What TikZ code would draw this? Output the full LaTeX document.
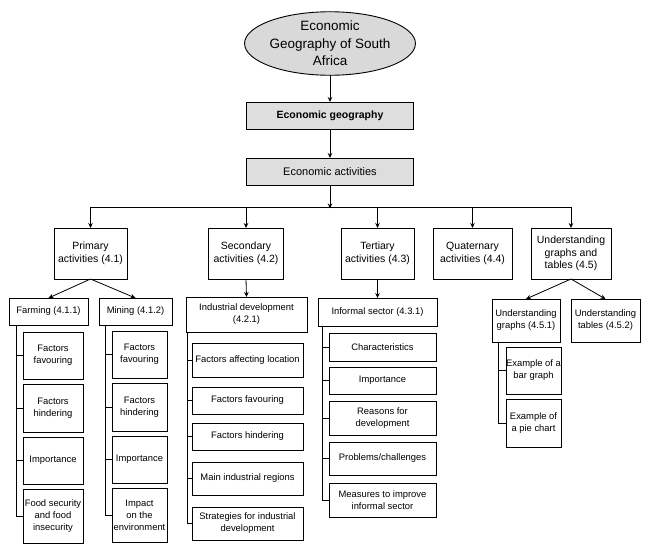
\documentclass[tikz,border=0pt]{standalone}
\usepackage{fontspec}
\setmainfont{Liberation Sans}
\usetikzlibrary{arrows.meta,shapes.geometric}
\begin{document}
\begin{tikzpicture}[x=1pt,y=-1pt,
  every node/.style={inner sep=0pt, outer sep=0pt, align=center},
  base/.style={draw=black, line width=0.9pt},
  topbox/.style={base, fill=black!13, font=\fontsize{10.5}{13}\selectfont},
  lvlone/.style={base, font=\fontsize{10.5}{12.5}\selectfont},
  lvltwo/.style={base, font=\fontsize{9.4}{12}\selectfont},
  leaf/.style={base, font=\fontsize{9.4}{12}\selectfont},
  conn/.style={line width=0.8pt, draw=black},
  arr/.style={conn, -{Stealth[length=5pt,width=4.5pt]}},
  sz/.style 2 args={minimum width=#1pt, minimum height=#2pt}
]
\useasboundingbox (0,0) rectangle (647,547);

% top
\node[ellipse, base, fill=black!15, sz={161}{63}, font=\fontsize{13.5}{17.5}\selectfont] (root) at (330,43.5) {Economic\\Geography of South\\Africa};
\node[topbox, sz={167}{27}, font=\bfseries\fontsize{10.5}{13}\selectfont] (eg) at (330,115.5) {Economic geography};
\node[topbox, sz={167}{27}, font=\fontsize{11}{13}\selectfont] (ea) at (330,171.5) {Economic activities};

% level 1
\node[lvlone, sz={73}{51}] (p1) at (90.5,253.5) {Primary\\activities (4.1)};
\node[lvlone, sz={75}{51}] (p2) at (246,253.5) {Secondary\\activities (4.2)};
\node[lvlone, sz={73}{51}] (p3) at (377.5,253.5) {Tertiary\\activities (4.3)};
\node[lvlone, sz={79}{51}] (p4) at (472.5,253.5) {Quaternary\\activities (4.4)};
\node[lvlone, sz={80}{51}] (p5) at (571,253.5) {Understanding\\graphs and\\tables (4.5)};

% level 2
\node[lvltwo, sz={79}{27}] (farm) at (48.5,311.5) {Farming (4.1.1)};
\node[lvltwo, sz={73}{27}] (mine) at (135.5,311.5) {Mining (4.1.2)};
\node[lvltwo, sz={121}{35}] (ind) at (246.5,314.5) {Industrial development\\(4.2.1)};
\node[lvltwo, sz={119}{28}] (inf) at (377.5,312) {Informal sector (4.3.1)};
\node[lvltwo, sz={68}{43}] (ug) at (526,320.5) {Understanding\\graphs (4.5.1)};
\node[lvltwo, sz={69}{43}] (ut) at (605.5,320.5) {Understanding\\tables (4.5.2)};

% farming children
\node[leaf, sz={60}{47}] (f1) at (53,355.5) {Factors\\favouring};
\node[leaf, sz={60}{48}] (f2) at (53,408) {Factors\\hindering};
\node[leaf, sz={60}{47}] (f3) at (53,460.5) {Importance};
\node[leaf, sz={60}{54}] (f4) at (53,516) {Food security\\and food\\insecurity};

% mining children
\node[leaf, sz={55}{47}] (m1) at (139.5,354.5) {Factors\\favouring};
\node[leaf, sz={55}{48}] (m2) at (139.5,407) {Factors\\hindering};
\node[leaf, sz={55}{47}] (m3) at (139.5,459.5) {Importance};
\node[leaf, sz={55}{54}] (m4) at (139.5,515) {Impact\\on the\\environment};

% industrial children
\node[leaf, sz={111}{34}] (i1) at (247.5,360) {Factors affecting location};
\node[leaf, sz={111}{27}] (i2) at (247.5,400.5) {Factors favouring};
\node[leaf, sz={111}{27}] (i3) at (247.5,436.5) {Factors hindering};
\node[leaf, sz={111}{33}] (i4) at (247.5,478.5) {Main industrial regions};
\node[leaf, sz={111}{33}] (i5) at (247.5,523.5) {Strategies for industrial\\development};

% informal children
\node[leaf, sz={107}{28}] (s1) at (382.5,347) {Characteristics};
\node[leaf, sz={107}{27}] (s2) at (382.5,380.5) {Importance};
\node[leaf, sz={107}{34}] (s3) at (382.5,418) {Reasons for\\development};
\node[leaf, sz={107}{33}] (s4) at (382.5,458.5) {Problems/challenges};
\node[leaf, sz={107}{34}] (s5) at (382.5,500) {Measures to improve\\informal sector};

% graph children
\node[leaf, sz={55}{47}] (g1) at (533.5,370.5) {Example of a\\bar graph};
\node[leaf, sz={55}{48}] (g2) at (533.5,423) {Example of\\a pie chart};

% spine coordinates
\coordinate (bus) at (330,207);
\coordinate (spf) at (16,0);
\coordinate (spm) at (105,0);
\coordinate (spi) at (187,0);
\coordinate (sps) at (322,0);
\coordinate (spg) at (498,0);

% top connectors
\draw[arr] (root.south) -- (eg.north);
\draw[arr] (eg.south) -- (ea.north);
\draw[arr] (ea.south) -- ([yshift=-1.5pt]bus);
\draw[conn] (p1.north |- bus) -- (p5.north |- bus);
\foreach \n in {p1,p2,p3,p4,p5} \draw[arr] (\n.north |- bus) -- (\n.north);

% level 1 to level 2
\draw[arr] (p1.south) -- (farm.north);
\draw[arr] (p1.south) -- (mine.north);
\draw[arr] (p2.south) -- (ind.north);
\draw[arr] (p3.south) -- (inf.north);
\draw[arr] (p5.south) -- (ug.north);
\draw[arr] (p5.south) -- (ut.north);

% spines
\draw[conn] (farm.south -| spf) |- (f4.west);
\foreach \c in {f1,f2,f3} \draw[conn] (spf |- \c.west) -- (\c.west);
\draw[conn] (mine.south -| spm) |- (m4.west);
\foreach \c in {m1,m2,m3} \draw[conn] (spm |- \c.west) -- (\c.west);
\draw[conn] (ind.south -| spi) |- (i5.west);
\foreach \c in {i1,i2,i3,i4} \draw[conn] (spi |- \c.west) -- (\c.west);
\draw[conn] (inf.south -| sps) |- (s5.west);
\foreach \c in {s1,s2,s3,s4} \draw[conn] (sps |- \c.west) -- (\c.west);
\draw[conn] (ug.south -| spg) |- (g2.west);
\draw[conn] (spg |- g1.west) -- (g1.west);
\end{tikzpicture}
\end{document}
